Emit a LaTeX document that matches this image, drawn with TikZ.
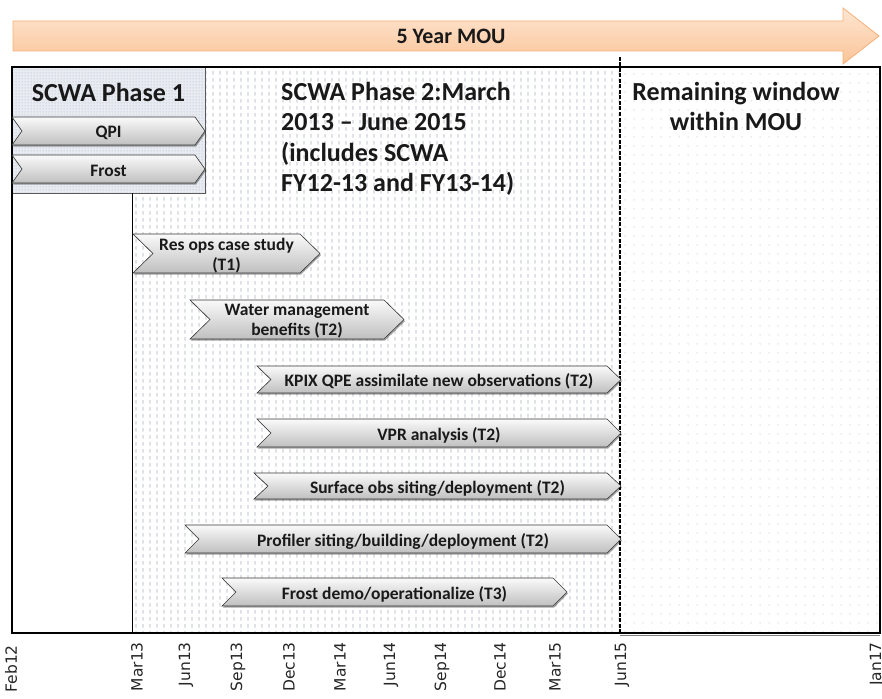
\documentclass[tikz,border=0pt]{standalone}
\usepackage{fontspec}
\setmainfont{Carlito}
\newfontfamily\axisfont{DejaVu Sans}
\usetikzlibrary{patterns,patterns.meta,shadows}
\definecolor{orfill1}{RGB}{254,230,210}
\definecolor{orfill2}{RGB}{250,196,152}
\definecolor{ordraw}{RGB}{247,176,120}
\definecolor{pattgray}{RGB}{165,173,186}
\definecolor{ph1fill}{RGB}{232,236,242}
\definecolor{ph1dots}{RGB}{186,193,204}
\definecolor{chevdraw}{RGB}{55,55,55}
\tikzdeclarepattern{
  name=vdashes, type=uncolored,
  bounding box={(0pt,0pt) and (7pt,7pt)},
  tile size={(7pt,7pt)},
  code={\draw[line width=0.9pt] (3.5pt,1.5pt) -- (3.5pt,5.5pt);}
}
\tikzdeclarepattern{
  name=sparsedots, type=uncolored,
  bounding box={(0pt,0pt) and (9pt,9pt)},
  tile size={(9pt,9pt)},
  code={\fill (4.5pt,4.5pt) circle (0.6pt);}
}
\tikzdeclarepattern{
  name=finedots, type=uncolored,
  bounding box={(0pt,0pt) and (3pt,3pt)},
  tile size={(3pt,3pt)},
  code={\fill (1.5pt,1.5pt) circle (0.7pt);}
}
\newcommand\chev[7]{%
  \path[chevshape] (#2,#4) -- ({#3-#6},#4) -- (#3,{(#4+#5)/2}) -- ({#3-#6},#5)
     -- (#2,#5) -- ({#2+#6},{(#4+#5)/2}) -- cycle;
  \node[chevtext] (#1) at ({(#2+#3)/2},{(#4+#5)/2+2}) {#7};
}
\begin{document}
\begin{tikzpicture}[x=1pt,y=-1pt,
  chevshape/.style={draw=chevdraw, line width=0.6pt, top color=gray!4, bottom color=gray!50,
     drop shadow={shadow xshift=1pt, shadow yshift=-1.6pt, opacity=0.35, fill=black}},
  chevtext/.style={font=\bfseries\fontsize{17.5}{20}\selectfont, align=center, inner sep=0pt, text=black!90},
  titletext/.style={font=\bfseries\fontsize{26}{30.5}\selectfont, inner sep=0pt, text=black!90},
  axislabel/.style={font=\axisfont\fontsize{15.5}{15.5}\selectfont, rotate=90, anchor=east, inner sep=0pt, text=black!85},
  frame/.style={draw=black, line width=1.8pt}
]
\useasboundingbox (0,0) rectangle (882,698);
\fill[white] (0,0) rectangle (882,698);
% orange MOU arrow
\path[draw=ordraw, line width=0.8pt, top color=orfill1, bottom color=orfill2]
  (13,21) -- (843,21) -- (843,8) -- (879,36) -- (843,64) -- (843,51) -- (13,51) -- cycle;
\node[font=\bfseries\fontsize{22}{22}\selectfont, text=black!90] (mou) at (451,36) {5 Year MOU};
% phase 2 region
\fill[white] (132,67) rectangle (620,633);
\fill[pattern=vdashes, pattern color=pattgray] (132,67) rectangle (620,633);
% remaining window
\fill[pattern=sparsedots, pattern color=pattgray] (620,67) rectangle (880,633);
% phase 1 box
\path[fill=ph1fill] (12,67) rectangle (205,193);
\fill[pattern=finedots, pattern color=ph1dots] (12,67) rectangle (205,193);
\draw[black!65, line width=0.8pt] (12,67) rectangle (205,193);
\draw[black, line width=0.9pt] (132,193) -- (132,633);
% main frame
\draw[frame] (12,67) rectangle (880,633);
\draw[gray, line width=1.2pt] (620,635.5) -- (880,635.5);
\draw[black, line width=2.6pt] (12,633) -- (880,633);
\draw[black, line width=1.8pt, dash pattern=on 4pt off 1.5pt] (620,57) -- (620,633);
% titles
\node[titletext] (ph1) at (108.5,92) {SCWA Phase 1};
\node[titletext, anchor=north west, align=left] (ph2) at (281,82)
  {SCWA Phase 2:March\\2013 – June 2015\\(includes SCWA\\FY12-13 and FY13-14)};
\node[titletext, anchor=north, align=center] (rem) at (736,82) {Remaining window\\within MOU};
% chevrons
\chev{qpi}{12}{205}{117}{145}{10}{QPI}
\chev{frost}{12}{205}{155}{183}{10}{Frost}
\chev{resops}{133}{320}{234}{273}{20}{Res ops case study\\(T1)}
\chev{water}{190}{404}{300}{339}{20}{Water management\\benefits (T2)}
\chev{kpix}{257}{621}{366}{393}{14}{KPIX QPE assimilate new observations (T2)}
\chev{vpr}{257}{621}{419}{447}{14}{VPR analysis (T2)}
\chev{surf}{254}{621}{473}{499}{14}{Surface obs siting/deployment (T2)}
\chev{prof}{185}{621}{525}{553}{14}{Profiler siting/building/deployment (T2)}
\chev{frostdemo}{222}{567}{578}{606}{14}{Frost demo/operationalize (T3)}
% axis labels
\node[axislabel] (l0) at (11,645) {Feb12};
\node[axislabel] (l1) at (137,642) {Mar13};
\node[axislabel] (l2) at (186,642) {Jun13};
\node[axislabel] (l3) at (238,642) {Sep13};
\node[axislabel] (l4) at (289,642) {Dec13};
\node[axislabel] (l5) at (340,642) {Mar14};
\node[axislabel] (l6) at (391,642) {Jun14};
\node[axislabel] (l7) at (442,642) {Sep14};
\node[axislabel] (l8) at (500,642) {Dec14};
\node[axislabel] (l9) at (555,642) {Mar15};
\node[axislabel] (l10) at (622,642) {Jun15};
\node[axislabel] (l11) at (877,642) {Jan17};
\end{tikzpicture}
\end{document}
